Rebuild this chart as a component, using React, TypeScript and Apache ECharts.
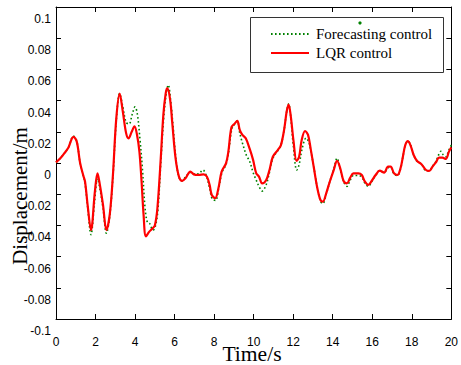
import React, { useEffect, useRef } from "react";
import * as echarts from "echarts";

// LQR control (red solid)
const lqrTime = [
  0, 0.22, 0.47, 0.63, 0.88, 1.05, 1.22, 1.38, 1.47, 1.6, 1.77, 1.97, 2.1, 2.22, 2.38, 2.55, 2.72, 2.88,
  3.05, 3.22, 3.38, 3.55, 3.67, 3.83, 3.97, 4.1, 4.22, 4.33, 4.43, 4.55, 4.72, 4.88, 5.0, 5.13, 5.3,
  5.43, 5.55, 5.63, 5.77, 5.88, 6.05, 6.22, 6.38, 6.55, 6.8, 6.97, 7.22, 7.47, 7.63, 7.77, 7.88, 8.05,
  8.22, 8.38, 8.6, 8.72, 8.88, 9.05, 9.17, 9.3, 9.43, 9.6, 9.8, 9.97, 10.13, 10.27, 10.43, 10.63, 10.8,
  10.97, 11.22, 11.38, 11.55, 11.67, 11.77, 11.88, 12.02, 12.17, 12.3, 12.43, 12.6, 12.75, 12.88, 13.05,
  13.22, 13.38, 13.5, 13.67, 13.85, 14.05, 14.22, 14.38, 14.55, 14.72, 14.88, 15.05, 15.3, 15.47, 15.63,
  15.8, 15.97, 16.17, 16.38, 16.6, 16.8, 16.93, 17.1, 17.27, 17.43, 17.55, 17.67, 17.8, 17.93, 18.1,
  18.27, 18.5, 18.72, 18.88, 19.05, 19.22, 19.38, 19.55, 19.72, 19.88, 20,
];
const lqrDisp = [
  0.0004, 0.003, 0.007, 0.01, 0.0168, 0.0137, 0.0, -0.008, -0.012, -0.027, -0.043, -0.018, -0.0066, -0.014,
  -0.027, -0.043, -0.033, -0.0077, 0.0286, 0.0445, 0.033, 0.019, 0.0158, 0.02, 0.0235, 0.018, 0.0073, -0.012,
  -0.033, -0.047, -0.044, -0.042, -0.04, -0.029, 0.003, 0.0307, 0.0446, 0.048, 0.041, 0.026, 0.003, -0.0087,
  -0.0115, -0.0098, -0.0055, -0.0073, -0.0077, -0.0073, -0.0087, -0.014, -0.0205, -0.0226, -0.016, -0.0055,
  -0.0002, 0.0073, 0.023, 0.0254, 0.027, 0.021, 0.018, 0.0158, 0.009, 0.002, -0.0066, -0.0087, -0.013, -0.011,
  -0.0045, 0.004, 0.0083, 0.0115, 0.022, 0.033, 0.0375, 0.0297, 0.0137, 0.0013, 0.004, 0.0147, 0.0205, 0.018,
  0.0094, -0.0034, -0.016, -0.0237, -0.0247, -0.0194, -0.012, -0.0045, 0.0013, -0.0034, -0.0115, -0.013,
  -0.0095, -0.0066, -0.0066, -0.0077, -0.012, -0.014, -0.0115, -0.0077, -0.0049, -0.0062, -0.0023, -0.0023,
  -0.0066, -0.0077, -0.0034, 0.004, 0.0115, 0.014, 0.0115, 0.005, 0.0013, -0.0009, -0.0045, -0.0051, -0.0023,
  0.0004, 0.0034, 0.0034, 0.0026, 0.0073, 0.01,
];

// Forecasting control (green dotted)
const fcTime = [
  0, 0.22, 0.47, 0.63, 0.88, 1.05, 1.22, 1.38, 1.47, 1.6, 1.77, 1.95, 2.1, 2.2, 2.38, 2.55, 2.72, 2.88,
  3.05, 3.22, 3.38, 3.55, 3.7, 3.85, 4.0, 4.12, 4.25, 4.38, 4.5, 4.62, 4.75, 4.9, 5.0, 5.15, 5.3, 5.45,
  5.58, 5.68, 5.8, 5.92, 6.07, 6.22, 6.38, 6.55, 6.8, 6.97, 7.2, 7.43, 7.6, 7.77, 7.9, 8.07, 8.22, 8.4,
  8.6, 8.72, 8.9, 9.05, 9.17, 9.3, 9.45, 9.63, 9.8, 9.97, 10.13, 10.27, 10.43, 10.63, 10.8, 10.97, 11.22,
  11.38, 11.55, 11.67, 11.77, 11.88, 12.0, 12.18, 12.3, 12.45, 12.65, 12.8, 12.95, 13.1, 13.25, 13.4,
  13.5, 13.67, 13.85, 14.05, 14.22, 14.38, 14.55, 14.72, 14.88, 15.05, 15.3, 15.47, 15.63, 15.8, 15.97,
  16.17, 16.38, 16.6, 16.8, 16.93, 17.1, 17.27, 17.43, 17.55, 17.67, 17.8, 17.93, 18.1, 18.27, 18.5,
  18.72, 18.88, 19.05, 19.22, 19.35, 19.47, 19.6, 19.72, 19.88, 20,
];
const fcDisp = [
  0.0004, 0.003, 0.007, 0.01, 0.0172, 0.014, 0.0, -0.008, -0.013, -0.028, -0.046, -0.025, -0.01, -0.015,
  -0.029, -0.045, -0.034, -0.009, 0.027, 0.0445, 0.036, 0.026, 0.025, 0.031, 0.036, 0.031, 0.015, -0.005,
  -0.028, -0.038, -0.039, -0.043, -0.042, -0.031, 0.0, 0.029, 0.045, 0.05, 0.04, 0.024, 0.002, -0.009,
  -0.0115, -0.009, -0.006, -0.007, -0.007, -0.0045, -0.008, -0.016, -0.023, -0.024, -0.017, -0.006, -0.001,
  0.006, 0.022, 0.025, 0.027, 0.019, 0.012, 0.005, 0.001, -0.006, -0.011, -0.015, -0.018, -0.014, -0.006,
  0.003, 0.008, 0.0115, 0.022, 0.033, 0.038, 0.029, 0.012, -0.0045, -0.001, 0.009, 0.016, 0.013, 0.004,
  -0.007, -0.018, -0.025, -0.026, -0.02, -0.012, -0.004, 0.003, -0.004, -0.012, -0.015, -0.011, -0.008,
  -0.008, -0.009, -0.013, -0.015, -0.012, -0.008, -0.005, -0.006, -0.003, -0.003, -0.007, -0.008, -0.004,
  0.004, 0.011, 0.014, 0.012, 0.005, 0.001, -0.001, -0.005, -0.005, -0.002, 0.001, 0.005, 0.0075, 0.005,
  0.004, 0.0085, 0.0115,
];

const yTickLabels = ["-0.1", "-0.08", "-0.06", "-0.04", "-0.02", "0", "0.02", "0.04", "0.06", "0.08", "0.1"];
const xTickLabels = ["0", "2", "4", "6", "8", "10", "12", "14", "16", "18", "20"];
const seriesNames = ["Forecasting control", "LQR control"];
const xTitle = "Time/s";
const yTitle = "Displacement/m";

const zip = (t: number[], v: number[]) => t.map((x, i) => [x, v[i]]);

export default function App() {
  const ref = useRef<HTMLDivElement>(null);
  useEffect(() => {
    if (!ref.current) return;
    const chart = echarts.init(ref.current, undefined, { renderer: "svg" });
    const axisLine = { show: true, onZero: false, lineStyle: { color: "#000", width: 1 } };
    const tick = { show: true, inside: true, length: 5, lineStyle: { color: "#000", width: 1 } };
    const labelFont = { color: "#000", fontFamily: "'Liberation Sans', Arial, sans-serif", fontSize: 12 };
    const serif = "'Liberation Serif', 'Times New Roman', serif";
    chart.setOption({
      animation: false,
      backgroundColor: "#fff",
      grid: { left: 56, right: 5, top: 7, bottom: 46, containLabel: false },
      xAxis: [
        {
          type: "value", min: 0, max: 20, interval: 2, position: "bottom",
          axisLine, axisTick: tick, splitLine: { show: false },
          axisLabel: { ...labelFont, margin: 17, lineHeight: 12, formatter: (v: number) => xTickLabels[Math.round(v / 2)] },
        },
        {
          type: "value", min: 0, max: 20, interval: 2, position: "top",
          axisLine, axisTick: tick, splitLine: { show: false }, axisLabel: { show: false },
        },
      ],
      yAxis: [
        {
          type: "value", min: -0.1, max: 0.1, interval: 0.02, position: "left",
          axisLine, axisTick: tick, splitLine: { show: false },
          axisLabel: {
            ...labelFont, margin: 5, verticalAlign: "top", lineHeight: 24,
            formatter: (v: number) => yTickLabels[Math.round((v + 0.1) / 0.02)],
          },
        },
        {
          type: "value", min: -0.1, max: 0.1, interval: 0.02, position: "right",
          axisLine, axisTick: tick, splitLine: { show: false }, axisLabel: { show: false },
        },
      ],
      legend: {
        orient: "vertical",
        left: 270,
        top: 24.5,
        padding: 0,
        itemGap: 0,
        itemWidth: 38,
        itemHeight: 14,
        itemStyle: { opacity: 0 },
        textStyle: { color: "#000", fontFamily: serif, fontSize: 15, lineHeight: 19, padding: [0, 0, 0, 2] },
        data: seriesNames,
      },
      graphic: [
        {
          type: "rect", z: 10,
          shape: { x: 250.5, y: 17.5, width: 193, height: 55 },
          style: { fill: "none", stroke: "#333", lineWidth: 1 },
        },
        { type: "circle", z: 11, shape: { cx: 360, cy: 23, r: 1.6 }, style: { fill: "#008000" } },
        {
          type: "text", z: 11, x: 252, y: 354, scaleX: 1.08,
          style: { text: xTitle, font: `20px ${serif}`, lineHeight: 14, fill: "#000", align: "center", verticalAlign: "middle" },
        },
        {
          type: "text", z: 11, x: 20, y: 196, rotation: Math.PI / 2,
          style: { text: yTitle, font: `21px ${serif}`, fill: "#000", align: "center", verticalAlign: "middle" },
        },
      ],
      series: [
        {
          name: seriesNames[0], type: "line", data: zip(fcTime, fcDisp),
          symbol: "none", showSymbol: false, smooth: 0.35,
          lineStyle: { color: "#008000", width: 1.6, type: [1.6, 2.4] },
          itemStyle: { color: "#008000" },
        },
        {
          name: seriesNames[1], type: "line", data: zip(lqrTime, lqrDisp),
          symbol: "none", showSymbol: false, smooth: 0.35,
          lineStyle: { color: "#ff0000", width: 2.2 },
          itemStyle: { color: "#ff0000" },
        },
      ],
    });
    return () => chart.dispose();
  }, []);
  return <div ref={ref} style={{ position: "fixed", left: 0, top: 0, width: 461, height: 365 }} />;
}
